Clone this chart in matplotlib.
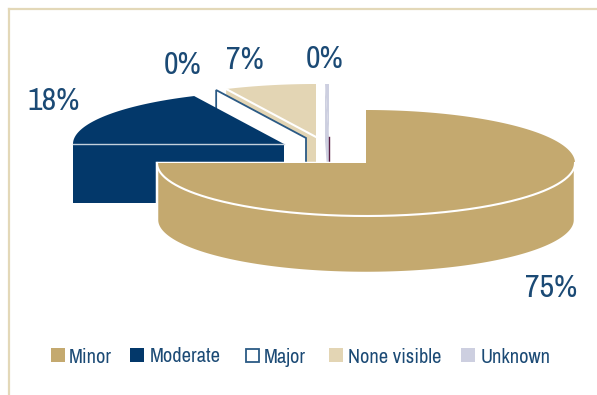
import numpy as np
import matplotlib
matplotlib.use('Agg')
import matplotlib.pyplot as plt
from matplotlib.patches import Polygon, Rectangle

categories = ['Minor', 'Moderate', 'Major', 'None visible', 'Unknown']
values = [75, 18, 0, 7, 0.3]
colors = ['#C4A96F', '#03386A', '#FFFFFF', '#E3D5B4', '#CDCFE0']

TEXT = '#1B4A75'
FRAME = '#E3D8B8'

# pie geometry in pixels
RX, RY, DEPTH = 211, 53, 57
MINOR_RX = 209
centers = [(366, 163), (284, 144), (306, 138), (316, 137), (329, 137)]
label_pos = [(551, 297), (54, 110), (183, 74), (245, 69), (325, 68)]
legend_x = [51, 130, 245, 329, 461]
legend_text_x = [69, 150, 264, 348, 481]
legend_base = [363, 362, 363, 363, 363]

plt.rcParams['font.family'] = ['Archivo Narrow', 'Liberation Sans']

fig = plt.figure(figsize=(5.97, 3.95), dpi=100)
ax = fig.add_axes([0, 0, 1, 1])
ax.set_xlim(0, 597)
ax.set_ylim(395, 0)
ax.axis('off')


def ellipse_pts(cx, cy, a0, a1, n=120, rx=RX):
    t = np.radians(np.linspace(a0, a1, n))
    return np.column_stack([cx + rx * np.cos(t), cy - RY * np.sin(t)])


# slices run clockwise from 12 o'clock, angles in degrees
angles = {}
start = 90
for name, v in zip(categories[:4], values[:4]):
    angles[name] = (start, start - v * 3.6)
    start -= v * 3.6
# the last sliver sits just left of the 90 degree line
angles['Unknown'] = (90 + values[4] * 3.6, 90)


def radial_face(cx, cy, ang, color, z, **kw):
    # cut side of a slice, pushed down by the pie depth
    px = cx + RX * np.cos(np.radians(ang))
    py = cy - RY * np.sin(np.radians(ang))
    pts = [(px, py), (cx, cy), (cx, cy + DEPTH), (px, py + DEPTH)]
    ax.add_patch(Polygon(pts, closed=True, facecolor=color, zorder=z, **kw))


# Unknown
cx, cy = centers[4]
a0, a1 = angles['Unknown']
radial_face(cx, cy, a0, colors[4], 1, edgecolor='none')
ax.add_patch(Polygon(np.vstack([[cx, cy], ellipse_pts(cx, cy, a0, a1, 10)]),
                     facecolor=colors[4], edgecolor='none', zorder=1))
ax.plot([cx, cx], [cy, cy + DEPTH], color='#5A1F45', lw=1, zorder=1.1)

# None visible
cx, cy = centers[3]
a0, a1 = angles['None visible']
radial_face(cx, cy, a0, colors[3], 2, edgecolor='none')
ax.add_patch(Polygon(np.vstack([[cx, cy], ellipse_pts(cx, cy, a0, a1)]),
                     facecolor=colors[3], edgecolor='none', zorder=2))
tip = ellipse_pts(cx, cy, a0, a0, 1)[0]
ax.plot([tip[0], cx], [tip[1], cy], color='white', lw=1.5, zorder=2.1)

# Major has no width, only its cut side shows
cx, cy = centers[2]
radial_face(cx, cy, angles['Major'][0], 'white', 3, edgecolor='#2B5A85', linewidth=1.3)

# Moderate
cx, cy = centers[1]
a0, a1 = angles['Moderate']
ax.add_patch(Polygon(np.vstack([[cx, cy], ellipse_pts(cx, cy, a0, a1)]),
                     facecolor=colors[1], edgecolor='none', zorder=4))
ax.add_patch(Rectangle((cx - RX, cy), RX, DEPTH + 2, facecolor=colors[1], edgecolor='none', zorder=4))
ax.plot([cx - RX, cx], [cy, cy], color='#C4D0DC', lw=1, zorder=4.1)

# Minor, wall first then the top face
cx, cy = centers[0]
a0, a1 = angles['Minor']
top = np.vstack([[cx, cy], ellipse_pts(cx, cy, a0, a1, 300, MINOR_RX)])
wall = ellipse_pts(cx, cy + DEPTH - 2 + 2, 180, 360, 200, MINOR_RX)
outline = np.vstack([[(cx, cy), (cx, cy - RY)],
                     ellipse_pts(cx, cy, 90, 0, 80, MINOR_RX),
                     wall[::-1],
                     [(cx - MINOR_RX, cy)]])
ax.add_patch(Polygon(outline, closed=True, facecolor=colors[0], edgecolor='white', linewidth=1.8, zorder=5))
ax.add_patch(Polygon(top, closed=True, facecolor=colors[0], edgecolor='none', zorder=5.1))
front = ellipse_pts(cx, cy, 180, 360, 200, MINOR_RX)
ax.plot(front[:, 0], front[:, 1], color='white', lw=1.5, zorder=5.2)

# percent labels
for v, (x, y) in zip(values, label_pos):
    ax.text(x, y, f'{v:.0f}%', fontsize=23, color=TEXT, ha='center', va='baseline', zorder=6)

# legend row
for name, col, sx, tx, by in zip(categories, colors, legend_x, legend_text_x, legend_base):
    if name == 'Major':
        ax.add_patch(Rectangle((sx + 0.5, 348.5), 13, 13, facecolor='white', edgecolor='#2B5A85', linewidth=1.3))
    else:
        ax.add_patch(Rectangle((sx, 348), 14, 14, facecolor=col, edgecolor='none'))
    ax.text(tx, by, name, fontsize=14.7, color=TEXT, ha='left', va='baseline')

# cream frame on the top and left only
ax.plot([9, 9], [395, 9], color=FRAME, lw=1.6, solid_capstyle='projecting')
ax.plot([9, 597], [9, 9], color=FRAME, lw=1.6)

fig.savefig('out.png', dpi=100)
